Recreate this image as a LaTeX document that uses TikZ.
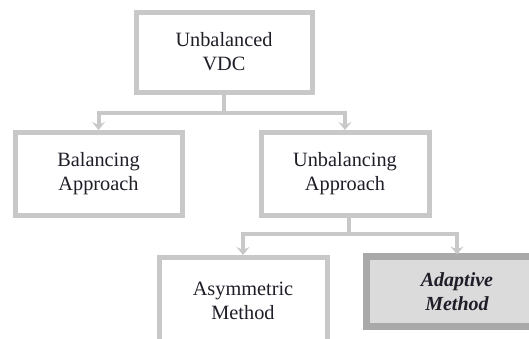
\documentclass[tikz,border=0pt]{standalone}
\usepackage{fontspec}
\setmainfont{Liberation Serif}
\usetikzlibrary{arrows.meta}
\definecolor{boxgray}{HTML}{C8C8C8}
\definecolor{darkgray2}{HTML}{A9A9A9}
\definecolor{fillgray}{HTML}{DBDBDB}
\definecolor{txt}{HTML}{1E1E28}
\tikzset{
  box/.style={draw=boxgray, line width=5pt, fill=white, rectangle, inner sep=0pt, outer sep=0pt,
    align=center, text=txt, font=\fontsize{20.3pt}{24pt}\selectfont},
  hibox/.style={box, draw=darkgray2, line width=7pt, fill=fillgray, font=\fontsize{20pt}{24pt}\selectfont\bfseries\itshape},
  conn/.style={draw=boxgray, line width=4pt},
  arr/.style={conn, shorten >=2pt, -{Stealth[length=8pt,width=13pt,inset=3pt]}}
}
\begin{document}
\begin{tikzpicture}[x=1pt,y=-1pt]
\useasboundingbox (0,0) rectangle (529,338);
\clip (0,0) rectangle (529,338);
\node[box, minimum width=176pt, minimum height=80pt] (top) at (224,52) {Unbalanced\\VDC};
\node[box, minimum width=167pt, minimum height=83pt] (bal) at (98.5,173.5) {Balancing\\Approach};
\node[box, minimum width=168pt, minimum height=83pt] (ub) at (345,173.5) {Unbalancing\\Approach};
\node[box, minimum width=168pt, minimum height=88pt] (asym) at (243,301) {Asymmetric\\Method};
\node[hibox, minimum width=181pt, minimum height=70pt] (ad) at (457,291.5) {Adaptive\\Method};
\draw[conn] (top.south) -- ++(0,21) coordinate (j1);
\draw[arr] (j1) -| (bal.north);
\draw[arr] (j1) -| (ub.north);
\draw[conn] ([xshift=4pt]ub.south) -- ++(0,19) coordinate (j2);
\draw[arr] (j2) -| (asym.north);
\draw[arr] (j2) -| (ad.north);
\end{tikzpicture}
\end{document}
